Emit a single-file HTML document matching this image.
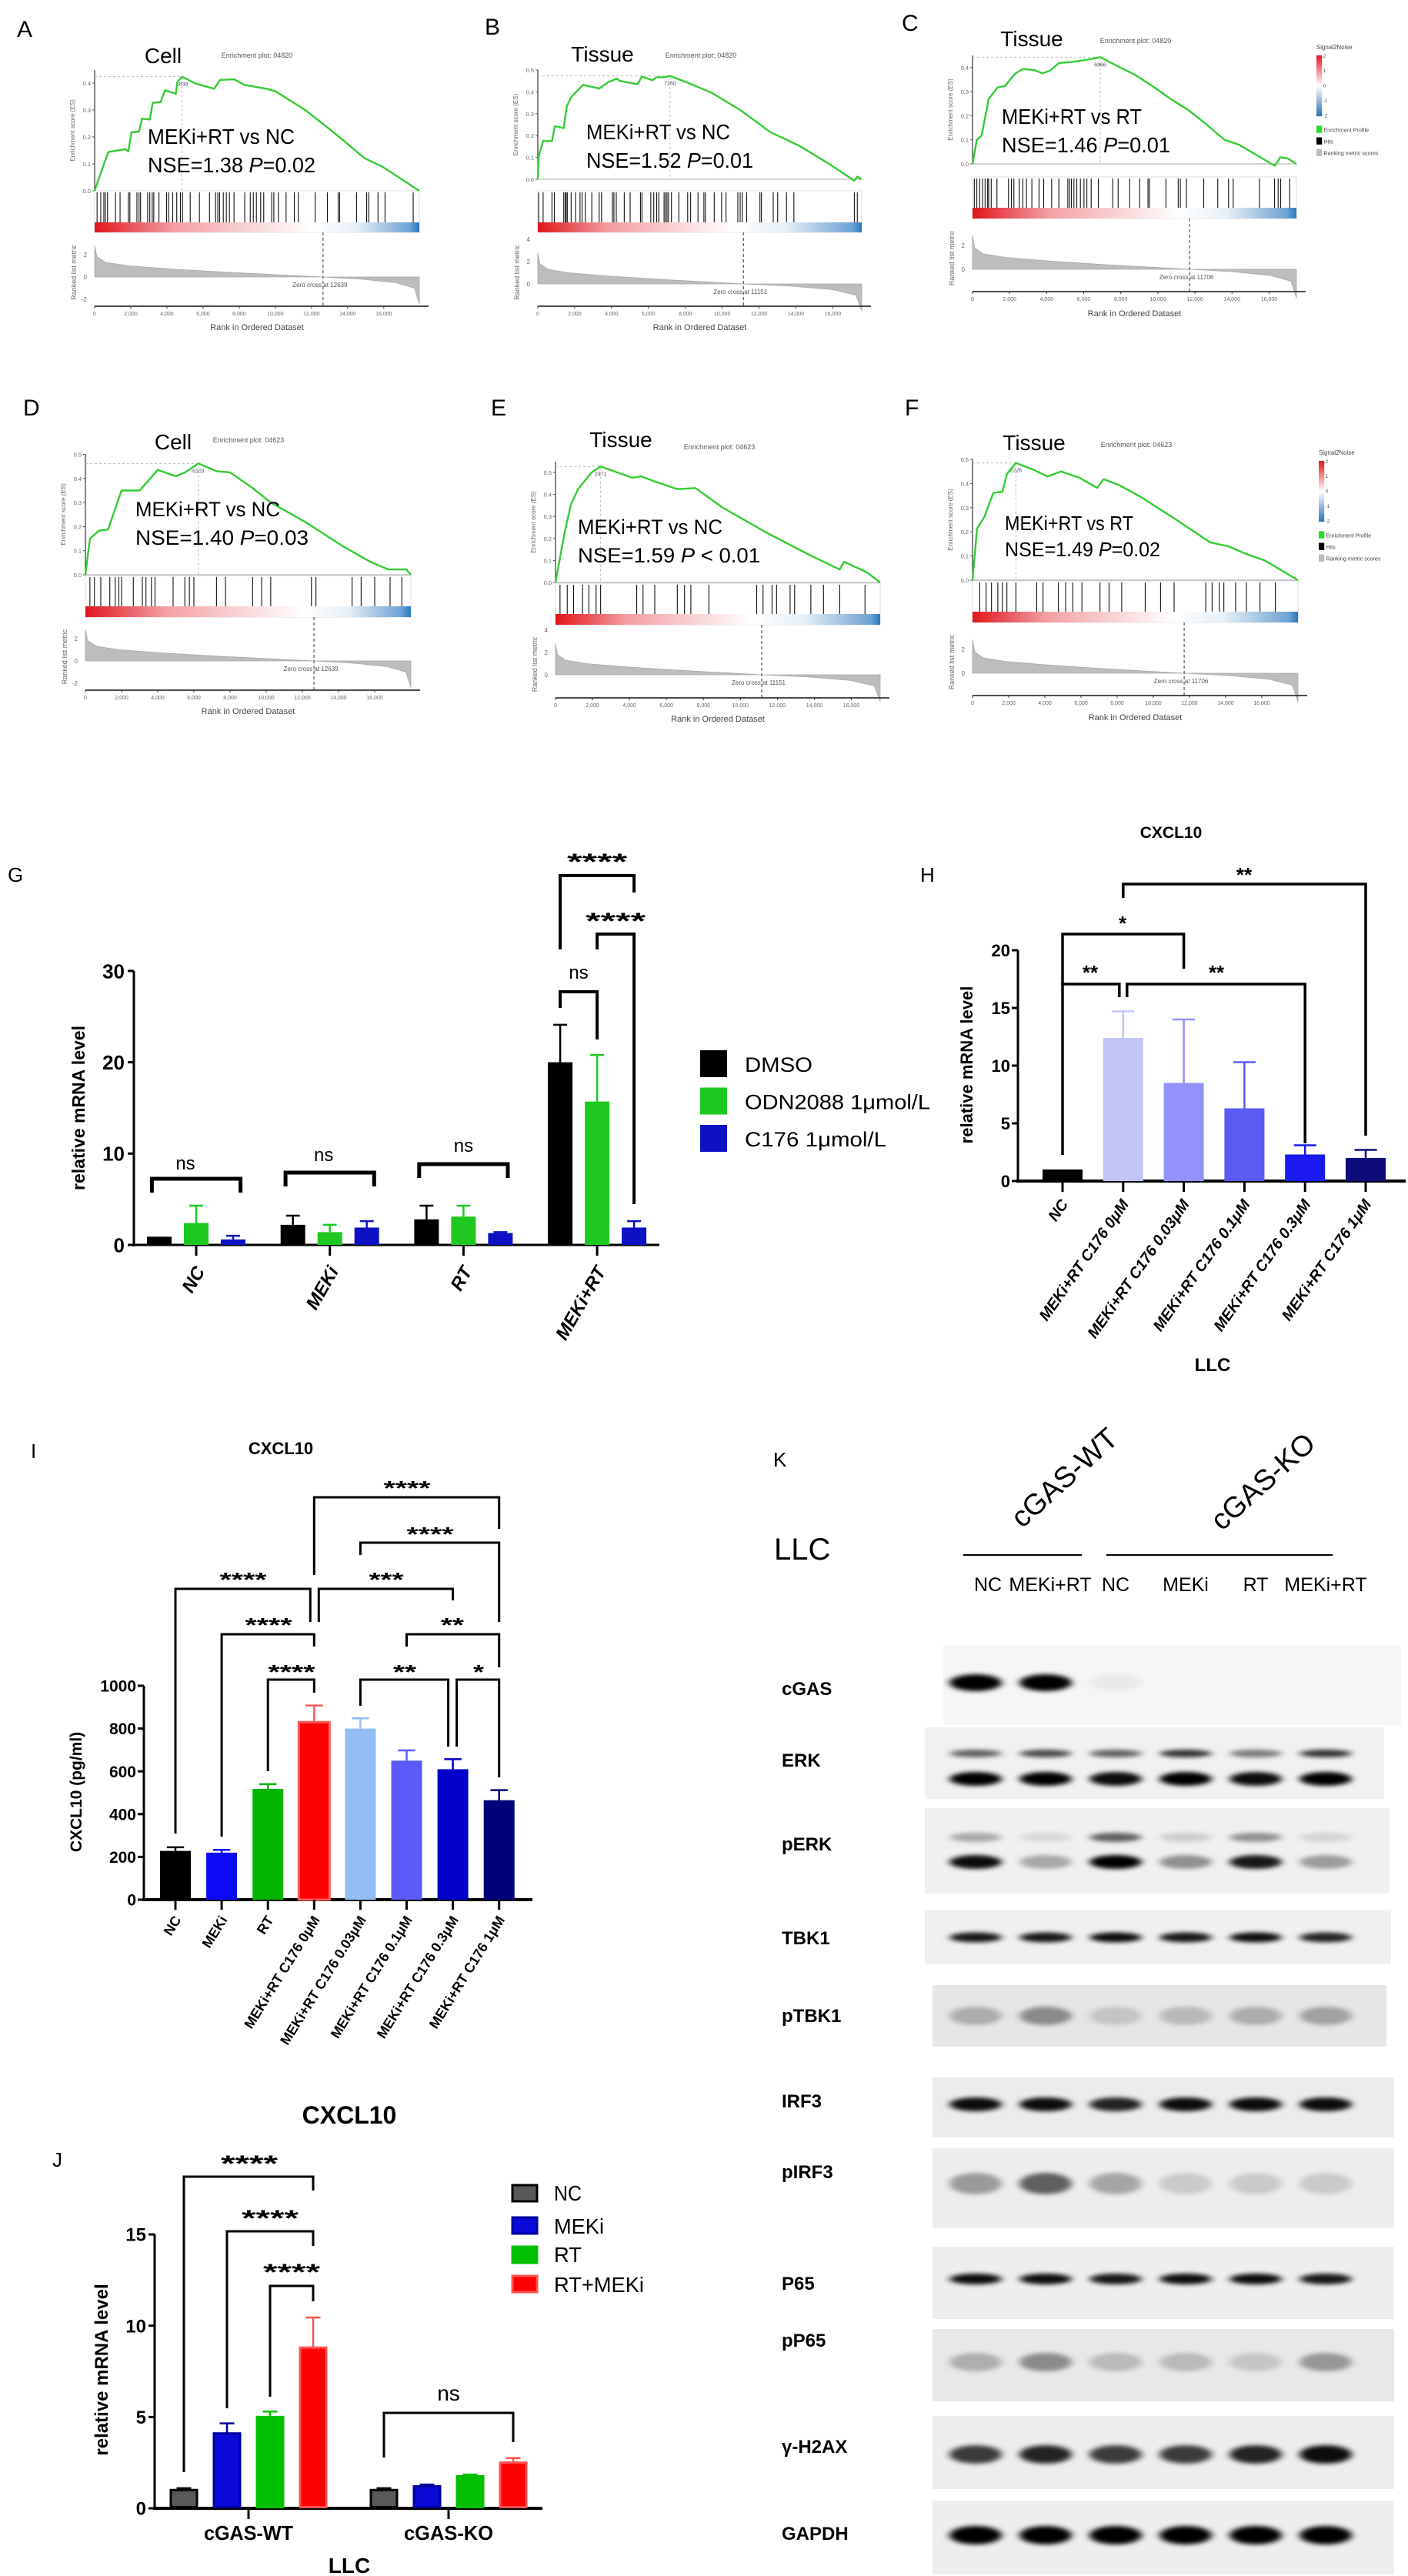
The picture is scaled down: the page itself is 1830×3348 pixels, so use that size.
<!DOCTYPE html>
<html><head><meta charset="utf-8">
<style>
html,body{margin:0;padding:0;background:#fff;}
svg{display:block;font-family:"Liberation Sans",Arial,sans-serif;}
</style></head>
<body>
<svg id="fig" xmlns="http://www.w3.org/2000/svg" width="1830" height="3348" viewBox="0 0 1830 3348">
<defs>
<filter id="blur" x="-50%" y="-200%" width="200%" height="500%"><feGaussianBlur stdDeviation="5 3"/></filter>
<linearGradient id="s2n" x1="0" y1="0" x2="0" y2="1"><stop offset="0" stop-color="#e3161e"/><stop offset="0.5" stop-color="#ffffff"/><stop offset="1" stop-color="#2a6fb8"/></linearGradient>
</defs>
<rect width="1830" height="3348" fill="#fff"/>
</svg>
<script>
// ---------- GSEA data (rank, running enrichment score) ----------
const esA_rank=[0,254,508,763,1695,1864,2034,2458,2627,3051,3220,3644,3898,4492,4576,4830,5593,6610,6949,7712,8305,9492,10000,11695,13390,14915,15932,17966];
const esA_val=[0,0.05,0.098,0.144,0.155,0.146,0.217,0.22,0.268,0.265,0.327,0.329,0.374,0.36,0.403,0.424,0.398,0.379,0.412,0.414,0.393,0.379,0.37,0.298,0.208,0.122,0.089,0];
const esB_rank=[0,48,288,768,928,1408,1568,1808,2048,2448,3328,3808,4288,4448,5408,5648,6208,6448,6848,7168,8128,9408,11008,12608,14208,15808,17168,17328,17568];
const esB_val=[0,0.105,0.175,0.175,0.243,0.234,0.333,0.376,0.397,0.432,0.415,0.444,0.461,0.45,0.435,0.47,0.453,0.467,0.467,0.473,0.442,0.397,0.315,0.216,0.152,0.07,-0.006,0.012,0];
const esC_rank=[0,233,485,874,1359,1748,2136,2330,2718,3301,3786,4175,4660,5437,6214,6893,7767,8738,9709,10680,11650,12621,13592,14369,15534,16311,16602,16990,17476];
const esC_val=[0,0.1,0.117,0.27,0.318,0.323,0.36,0.376,0.394,0.39,0.376,0.387,0.419,0.424,0.433,0.443,0.408,0.371,0.323,0.27,0.223,0.164,0.1,0.08,0.027,-0.008,0.027,0.023,0];
const esD_rank=[0,250,750,1250,2000,3000,4000,5000,5500,6250,7250,8000,9250,10250,12250,14250,15750,16750,17750,18000];
const esD_val=[0,0.15,0.183,0.188,0.35,0.35,0.435,0.409,0.425,0.462,0.43,0.425,0.36,0.30,0.215,0.118,0.054,0.022,0.022,0];
const esE_rank=[0,488,829,1220,1951,2439,4146,4634,5366,6585,7561,9024,11463,13902,15366,15610,16829,17560];
const esE_val=[0,0.224,0.353,0.424,0.5,0.527,0.476,0.482,0.459,0.424,0.429,0.341,0.224,0.118,0.059,0.094,0.047,0];
const esF_rank=[0,250,650,1150,1650,1900,2400,3400,4150,4900,5900,6900,7250,8150,9400,11150,13150,14150,15150,16150,18000];
const esF_val=[0,0.214,0.261,0.361,0.366,0.44,0.485,0.456,0.429,0.45,0.424,0.382,0.418,0.392,0.34,0.256,0.156,0.14,0.108,0.082,0];
const hitsA=[136,339,509,593,712,1153,1407,1865,1949,2339,2458,2542,2932,3051,3187,3271,3560,3983,4102,4322,4543,4746,4865,5288,5797,6356,6695,6814,6916,7119,7288,7458,7712,8305,8611,8780,8950,9187,9356,9797,9916,10170,10594,11051,11272,12204,12882,13475,13560,14492,15052,15170,15679,16069,17628];
const hitsB=[48,288,768,896,1408,1488,1536,1600,1808,2048,2288,2400,2576,2928,3328,3456,4048,4128,4256,4688,5008,5568,5648,6128,6288,6448,6560,6848,6928,7008,7088,7248,7648,8128,8288,8688,9008,9088,9568,9968,10208,10848,10976,11088,11328,12048,12128,12768,13008,13488,13888,17168,17328];
const hitsC=[97,233,388,543,679,815,873,1009,1319,1940,2095,2231,2522,2716,2910,3201,3589,3841,4268,4656,5141,5238,5335,5471,5626,5820,6014,6169,6402,6790,7566,7857,8478,9021,9467,9545,10437,11097,11213,11543,12474,13231,13813,14065,15481,16296,16490,16626,17111];
const hitsD=[250,500,850,1350,1650,1850,2000,2650,3150,3350,3650,3850,4850,5500,5750,6000,7250,7750,9250,9750,10250,12500,12750,14750,15250,16000,16850,17500];
const hitsE=[244,634,976,1464,1806,2196,2440,4392,4733,5368,6588,6978,7320,8296,10882,11224,11712,11956,12688,12932,13810,14494,15372,16738];
const hitsF=[400,750,1050,1400,1650,1900,2400,3550,3900,4750,5150,5550,6050,7050,7550,8250,9550,10400,11150,12900,13250,13650,13900,14550,15150,15900,16750];
const metricPosFrac=[0,0.01,0.05,0.15,0.35,0.6,0.85,1];
const metricPosVal=[2.8,1.8,1.3,1.0,0.7,0.4,0.15,0];
const metricNegFrac=[0,0.4,0.75,0.95,1];
const metricNegVal=[0,-0.2,-0.5,-1.0,-2.4];
const rankTicks=[0,2000,4000,6000,8000,10000,12000,14000,16000];
const rankTickLabels=['0','2,000','4,000','6,000','8,000','10,000','12,000','14,000','16,000'];

// ---------- G ----------
const gCats=['NC','MEKi','RT','MEKi+RT'];
const gDMSO=[0.9,2.2,2.8,20.0], gDMSOerr=[0,1.0,1.5,4.1];
const gODN=[2.4,1.4,3.1,15.7], gODNerr=[1.9,0.8,1.2,5.1];
const gC176=[0.6,1.9,1.3,1.9], gC176err=[0.4,0.7,0.1,0.7];
const gTicks=[0,10,20,30];
// ---------- H ----------
const hCats=['NC','MEKi+RT  C176 0μM','MEKi+RT  C176 0.03μM','MEKi+RT  C176 0.1μM','MEKi+RT  C176 0.3μM','MEKi+RT  C176 1μM'];
const hVals=[1.0,12.4,8.5,6.3,2.3,2.0];
const hErr=[0,2.3,5.5,4.0,0.8,0.7];
const hTicks=[0,5,10,15,20];
// ---------- I ----------
const iCats=['NC','MEKi','RT','MEKi+RT C176 0μM','MEKi+RT C176 0.03μM','MEKi+RT C176 0.1μM','MEKi+RT C176 0.3μM','MEKi+RT C176 1μM'];
const iVals=[228,220,518,830,800,650,610,465];
const iErr=[17,13,22,78,48,48,47,47];
const iTicks=[0,200,400,600,800,1000];
// ---------- J ----------
const jCats=['cGAS-WT','cGAS-KO'];
const jNC=[1.0,1.0], jNCe=[0.1,0.1];
const jMEKi=[4.1,1.2], jMEKie=[0.55,0.1];
const jRT=[5.0,1.75], jRTe=[0.3,0.1];
const jRTM=[8.8,2.5], jRTMe=[1.65,0.25];
const jTicks=[0,5,10,15];
// ---------- K blots ----------
const kLaneLabels=['NC','MEKi+RT','NC','MEKi','RT','MEKi+RT'];
const bCGAS=[1,1,0.05,0,0,0];
const bERKup=[0.6,0.7,0.6,0.8,0.5,0.8], bERKlo=[1,1,0.95,1,0.95,1];
const bPERKup=[0.3,0.1,0.6,0.15,0.4,0.12], bPERKlo=[0.95,0.3,1,0.4,0.9,0.35];
const bTBK1=[0.9,0.9,0.95,0.9,0.95,0.85];
const bPTBK1=[0.25,0.4,0.15,0.2,0.25,0.3];
const bIRF3=[0.95,0.95,0.85,0.95,0.95,0.95];
const bPIRF3=[0.35,0.6,0.3,0.15,0.15,0.15];
const bP65=[0.95,0.95,0.9,0.95,0.95,0.9];
const bPP65=[0.25,0.4,0.2,0.2,0.15,0.35];
const bH2AX=[0.75,0.85,0.75,0.75,0.85,0.95];
const bGAPDH=[1,1,1,1,1,1];

const NS='http://www.w3.org/2000/svg';
const svg=document.getElementById('fig');
function mk(tag,attrs,parent){const e=document.createElementNS(NS,tag);for(const k in attrs)e.setAttribute(k,attrs[k]);(parent||svg).appendChild(e);return e;}
function nm(e,n){
  
  
  return e;}
function txt(x,y,s,attrs,parent){const t=mk('text',Object.assign({x:x,y:y},attrs||{}),parent);t.textContent=s;return t;}

// ================= GSEA =================
const gseaCfg=[
 {id:'a',letter:'A',lx:22,ly:48,title:'Cell',tx:212,ty:82,epx:334,epy:75,ep:'Enrichment plot: 04820',L:123,R:545,max:17966,es0:248,esK:350,esTop:91,esTicks:[0,0.1,0.2,0.3,0.4],hT:248,hB:288,bT:289,bB:302,rk0:360,rkK:14.5,rkTicks:[2,0,-2],axisY:398,rtY:429,zero:12639,ax:192,ay1:187,ay2:224,aw1:191,aw2:218,l1:'MEKi+RT vs NC',nse:'NSE=1.38  ',pv:'=0.02',peak:'4839',fs:28,rank:esA_rank,val:esA_val,hits:hitsA},
 {id:'b',letter:'B',lx:630,ly:45,title:'Tissue',tx:783,ty:80,epx:911,epy:75,ep:'Enrichment plot: 04820',L:699,R:1120,max:17568,es0:233,esK:284,esTop:91,esTicks:[0,0.1,0.2,0.3,0.4,0.5],hT:248,hB:288,bT:289,bB:302,rk0:369,rkK:14.5,rkTicks:[4,2,0],axisY:398,rtY:429,zero:11151,ax:762,ay1:181,ay2:218,aw1:187,aw2:217,l1:'MEKi+RT vs NC',nse:'NSE=1.52  ',pv:'=0.01',peak:'7160',fs:28,rank:esB_rank,val:esB_val,hits:hitsB},
 {id:'c',letter:'C',lx:1172,ly:40,title:'Tissue',tx:1341,ty:60,epx:1476,epy:56,ep:'Enrichment plot: 04820',L:1264,R:1685,max:17476,es0:213,esK:313,esTop:72,esTicks:[0,0.1,0.2,0.3,0.4],hT:230,hB:270,bT:270,bB:284,rk0:350,rkK:15.5,rkTicks:[2,0],axisY:379,rtY:411,zero:11706,ax:1302,ay1:161,ay2:198,aw1:182,aw2:219,l1:'MEKi+RT vs RT',nse:'NSE=1.46  ',pv:'=0.01',peak:'6966',fs:28,rank:esC_rank,val:esC_val,hits:hitsC},
 {id:'d',letter:'D',lx:30,ly:540,title:'Cell',tx:225,ty:584,epx:323,epy:575,ep:'Enrichment plot: 04623',L:111,R:534,max:18000,es0:747,esK:313,esTop:590,esTicks:[0,0.1,0.2,0.3,0.4,0.5],hT:748,hB:788,bT:788,bB:802,rk0:859,rkK:14.5,rkTicks:[2,0,-2],axisY:897,rtY:928,zero:12639,ax:176,ay1:671,ay2:708,aw1:188,aw2:225,l1:'MEKi+RT vs NC',nse:'NSE=1.40  ',pv:'=0.03',peak:'6103',fs:27,rank:esD_rank,val:esD_val,hits:hitsD},
 {id:'e',letter:'E',lx:638,ly:540,title:'Tissue',tx:807,ty:581,epx:935,epy:584,ep:'Enrichment plot: 04623',L:722,R:1144,max:17560,es0:757,esK:286,esTop:600,esTicks:[0,0.1,0.2,0.3,0.4,0.5],hT:758,hB:798,bT:798,bB:812,rk0:877,rkK:14.5,rkTicks:[4,2,0],axisY:907,rtY:938,zero:11151,ax:751,ay1:694,ay2:731,aw1:188,aw2:237,l1:'MEKi+RT vs NC',nse:'NSE=1.59  ',pv:' < 0.01',peak:'2471',fs:27,rank:esE_rank,val:esE_val,hits:hitsE},
 {id:'f',letter:'F',lx:1176,ly:540,title:'Tissue',tx:1344,ty:585,epx:1477,epy:581,ep:'Enrichment plot: 04623',L:1264,R:1687,max:18000,es0:754,esK:314,esTop:597,esTicks:[0,0.1,0.2,0.3,0.4,0.5],hT:755,hB:795,bT:795,bB:809,rk0:875,rkK:15.5,rkTicks:[2,0],axisY:904,rtY:936,zero:11706,ax:1306,ay1:689,ay2:723,aw1:167,aw2:202,l1:'MEKi+RT vs RT',nse:'NSE=1.49  ',pv:'=0.02',peak:'2226',fs:26,rank:esF_rank,val:esF_val,hits:hitsF}
];
function gsea(c){
  const g=mk('g',{});
  nm(g,'gsea-panel-'+c.id);
  const X=r=>c.L+(r/c.max)*(c.R-c.L);
  const Y=v=>c.es0-v*c.esK;
  const RY=v=>c.rk0-v*c.rkK;
  nm(txt(c.lx,c.ly,c.letter,{'font-size':30,fill:'#000'},g),'panel-letter');
  nm(txt(c.tx,c.ty,c.title,{'font-size':28,'text-anchor':'middle',fill:'#000'},g),'panel-title');
  nm(txt(c.epx,c.epy,c.ep,{'font-size':9,'text-anchor':'middle',fill:'#555'},g),'enrichment-plot-title');
  const gr=mk('linearGradient',{id:'cb'+c.id,x1:0,y1:0,x2:1,y2:0},svg.querySelector('defs'));
  const zf=c.zero/c.max;
  mk('stop',{offset:0,'stop-color':'#e0161c'},gr);
  mk('stop',{offset:zf*0.35,'stop-color':'#f3a0a3'},gr);
  mk('stop',{offset:zf*0.95,'stop-color':'#ffffff'},gr);
  mk('stop',{offset:Math.min(1,zf+(1-zf)*0.35),'stop-color':'#e6f0f8'},gr);
  mk('stop',{offset:0.97,'stop-color':'#6ea3d3'},gr);
  mk('stop',{offset:1,'stop-color':'#2a78c2'},gr);
  nm(mk('line',{x1:c.L,y1:c.esTop,x2:c.L,y2:c.es0,stroke:'#333','stroke-width':1.2},g),'es-y-axis');
  c.esTicks.forEach(v=>{
    mk('line',{x1:c.L-3,y1:Y(v),x2:c.L,y2:Y(v),stroke:'#555','stroke-width':1},g);
    nm(txt(c.L-5,Y(v)+3,v.toFixed(1),{'font-size':7.5,'text-anchor':'end',fill:'#666'},g),'es-tick-label');
  });
  const yl=txt(0,0,'Enrichment score (ES)',{'font-size':8,'text-anchor':'middle',fill:'#666',transform:`translate(${c.L-26},${(c.esTop+c.es0)/2}) rotate(-90)`},g);
  nm(yl,'es-axis-title');
  nm(mk('line',{x1:c.L,y1:c.es0,x2:c.R,y2:c.es0,stroke:'#aaa','stroke-width':1},g),'es-zero-line');
  let pi=0;c.val.forEach((v,i)=>{if(v>c.val[pi])pi=i;});
  mk('path',{d:`M${c.L} ${Y(c.val[pi])} H${X(c.rank[pi])} V${c.es0}`,stroke:'#bbb','stroke-dasharray':'3 3',fill:'none','stroke-width':1},g);
  nm(txt(X(c.rank[pi]),Y(c.val[pi])+12,c.peak,{'font-size':7,'text-anchor':'middle',fill:'#555'},g),'peak-rank-label');
  nm(mk('rect',{x:c.L,y:c.hT,width:c.R-c.L,height:c.bB-c.hT,fill:'#fff',stroke:'#ddd','stroke-width':1},g),'hits-box');
  c.hits.forEach(r=>{
    const h=mk('line',{x1:X(r),y1:c.hT+2,x2:X(r),y2:c.bT,stroke:'#111','stroke-width':1.1},g);
    nm(h,'hit-line');
  });
  nm(mk('rect',{x:c.L,y:c.bT,width:c.R-c.L,height:c.bB-c.bT,fill:`url(#cb${c.id})`},g),'ranking-color-bar');
  const pts=c.rank.map((r,i)=>X(r).toFixed(1)+','+Y(c.val[i]).toFixed(1)).join(' ');
  nm(mk('polyline',{points:pts,fill:'none',stroke:'#33cc33','stroke-width':2.4,'stroke-linejoin':'round'},g),'enrichment-curve');
  let d=`M${X(0)} ${RY(0)}`;
  metricPosFrac.forEach((f,i)=>{d+=` L${X(f*c.zero).toFixed(1)} ${RY(metricPosVal[i]).toFixed(1)}`;});
  metricNegFrac.forEach((f,i)=>{d+=` L${X(c.zero+f*(c.max-c.zero)).toFixed(1)} ${RY(metricNegVal[i]).toFixed(1)}`;});
  d+=` L${X(c.max)} ${RY(0)} Z`;
  nm(mk('path',{d:d,fill:'#bdbdbd',stroke:'#a8a8a8','stroke-width':0.8},g),'ranked-metric-area');
  c.rkTicks.forEach(v=>{
    nm(txt(c.L-10,RY(v)+3,String(v),{'font-size':8,'text-anchor':'end',fill:'#666'},g),'metric-tick-label');
  });
  nm(txt(0,0,'Ranked list metric',{'font-size':9,'text-anchor':'middle',fill:'#666',transform:`translate(${c.L-24},${(c.bB+c.axisY)/2+4}) rotate(-90)`},g),'metric-axis-title');
  nm(mk('line',{x1:X(c.zero),y1:c.bB,x2:X(c.zero),y2:c.axisY,stroke:'#333','stroke-width':1,'stroke-dasharray':'4 3'},g),'zero-cross-line');
  nm(txt(X(c.zero)-4,c.rk0+13,'Zero cross at '+c.zero,{'font-size':8,'text-anchor':'middle',fill:'#555'},g),'zero-cross-label');
  nm(mk('line',{x1:c.L,y1:c.axisY,x2:c.R+12,y2:c.axisY,stroke:'#333','stroke-width':1.8},g),'rank-x-axis');
  rankTicks.forEach((r,i)=>{
    mk('line',{x1:X(r),y1:c.axisY,x2:X(r),y2:c.axisY+3,stroke:'#333','stroke-width':1},g);
    nm(txt(X(r),c.axisY+12,rankTickLabels[i],{'font-size':7,'text-anchor':'middle',fill:'#666'},g),'rank-tick-label');
  });
  nm(txt((c.L+c.R)/2,c.rtY,'Rank in Ordered Dataset',{'font-size':11,'text-anchor':'middle',fill:'#444'},g),'rank-axis-title');
  nm(txt(c.ax,c.ay1,c.l1,{'font-size':c.fs,fill:'#000',textLength:c.aw1,lengthAdjust:'spacingAndGlyphs'},g),'comparison-label');
  const t2=txt(c.ax,c.ay2,'',{'font-size':c.fs,fill:'#000',textLength:c.aw2,lengthAdjust:'spacingAndGlyphs'},g);
  nm(t2,'nse-p-value-label');
  const s1=mk('tspan',{},t2);s1.textContent=c.nse;
  const s2=mk('tspan',{'font-style':'italic'},t2);s2.textContent='P';
  const s3=mk('tspan',{},t2);s3.textContent=c.pv;
}
gseaCfg.forEach(gsea);

function gseaLegend(x,y,s,id){
  const g=mk('g',{});
  nm(g,'gsea-legend-'+id);
  nm(txt(x,y,'Signal2Noise',{'font-size':11*s,fill:'#444'},g),'legend-title');
  nm(mk('rect',{x:x,y:y+11*s,width:10*s,height:110*s,fill:'url(#s2n)'},g),'legend-colorbar');
  ['2','1','0','-1','-2'].forEach((t,i)=>{nm(txt(x+12*s,y+(15+i*27)*s,t,{'font-size':9*s,fill:'#555'},g),'colorbar-tick');});
  const items=[['#22dd22','Enrichment Profile'],['#000','Hits'],['#bbb','Ranking metric scores']];
  items.forEach((it,i)=>{
    const yy=y+(138+i*21)*s;
    nm(mk('rect',{x:x,y:yy,width:10*s,height:13*s,fill:it[0]},g),'legend-swatch');
    nm(txt(x+13*s,yy+11*s,it[1],{'font-size':10*s,fill:'#444'},g),'legend-label');
  });
}
gseaLegend(1711,64,0.72,'c');
gseaLegend(1714,591,0.72,'f');

// ================= bar helpers =================
function yAxis(g,x,yfn,ticks,top,bottom,fs,sw,labX){
  nm(mk('line',{x1:x,y1:top,x2:x,y2:bottom,stroke:'#000','stroke-width':sw},g),'y-axis-line');
  ticks.forEach(t=>{
    mk('line',{x1:x-8,y1:yfn(t),x2:x,y2:yfn(t),stroke:'#000','stroke-width':sw},g);
    nm(txt(labX,yfn(t)+fs*0.36,String(t),{'font-size':fs,'text-anchor':'end',fill:'#000','font-weight':'bold'},g),'y-tick-label');
  });
}
function bar(g,cx,w,v,err,yfn,y0,fill,stroke,name){
  const r=mk('rect',{x:cx-w/2,y:yfn(v),width:w,height:y0-yfn(v),fill:fill,stroke:stroke,'stroke-width':stroke==='none'?0:3},g);
  nm(r,name);
  if(err>0){
    const e=mk('path',{d:`M${cx} ${yfn(v)} V${yfn(v+err)} M${cx-w*0.28} ${yfn(v+err)} H${cx+w*0.28}`,stroke:stroke==='none'?fill:stroke,'stroke-width':2.5,fill:'none'},g);
    nm(e,name+'-error-bar');
  }
}
function bracket(g,x1,x2,y,y1,y2,label,lx,ly,fs,sw,tl){
  nm(mk('path',{d:`M${x1} ${y1} V${y} H${x2} V${y2}`,stroke:'#000','stroke-width':sw,fill:'none'},g),'significance-bracket');
  const a={'font-size':fs,'text-anchor':'middle',fill:'#000','font-weight':label==='ns'?'normal':'bold'};
  if(tl){a.textLength=tl;a.lengthAdjust='spacingAndGlyphs';}
  nm(txt(lx,ly,label,a,g),'significance-label');
}

// ================= G =================
(function(){
  const g=mk('g',{});
  nm(g,'panel-g-chart');
  const y0=1618,gy=v=>y0-v*11.87,gx=(i,s)=>255+i*173.7+(s-1)*48;
  nm(txt(10,1146,'G',{'font-size':26,fill:'#000'},g),'panel-letter');
  yAxis(g,174,gy,gTicks,gy(30),y0+2,26,3,162);
  nm(mk('line',{x1:172,y1:y0,x2:857,y2:y0,stroke:'#000','stroke-width':3},g),'x-axis-line');
  const ser=[[gDMSO,gDMSOerr,'#000000'],[gODN,gODNerr,'#1ec81e'],[gC176,gC176err,'#0c12c4']];
  gCats.forEach((c,i)=>{
    ser.forEach((s,k)=>bar(g,gx(i,k),32,s[0][i],s[1][i],gy,y0,s[2],'none','bar-'+c+'-'+k));
    mk('line',{x1:gx(i,1),y1:y0,x2:gx(i,1),y2:y0+14,stroke:'#000','stroke-width':3},g);
    nm(txt(0,0,c,{'font-size':24,'font-weight':'bold','font-style':'italic','text-anchor':'end',transform:`translate(${gx(i,1)+12},${y0+34}) rotate(-60)`},g),'x-tick-label');
  });
  nm(txt(0,0,'relative mRNA level',{'font-size':23,'font-weight':'bold','text-anchor':'middle',transform:`translate(110,1440) rotate(-90)`},g),'y-axis-title');
  bracket(g,gx(0,-0.2),gx(0,2.2),1532,1550,1550,'ns',gx(0,1)-14,1520,24,5);
  bracket(g,gx(1,-0.2),gx(1,2.2),1524,1542,1542,'ns',gx(1,1)-8,1509,24,5);
  bracket(g,gx(2,-0.2),gx(2,2.2),1513,1531,1531,'ns',gx(2,1),1497,24,5);
  bracket(g,gx(3,0),gx(3,1),1289,1310,1351,'ns',gx(3,0.5),1272,24,4);
  bracket(g,gx(3,0),gx(3,2),1138,1234,1160,'****',gx(3,1),1130,30,4,78);
  bracket(g,gx(3,1),gx(3,2),1214,1234,1565,'****',gx(3,1.5),1207,30,4,78);
  const leg=[['#000000','DMSO'],['#1ec81e','ODN2088 1μmol/L'],['#0c12c4','C176 1μmol/L']];
  leg.forEach((l,i)=>{
    nm(mk('rect',{x:910,y:1365+i*48.5,width:35,height:35,fill:l[0]},g),'legend-swatch');
    nm(txt(968,1393+i*48.5,l[1],{'font-size':27,fill:'#000',textLength:[88,241,184][i],lengthAdjust:'spacingAndGlyphs'},g),'legend-label');
  });
})();

// ================= H =================
(function(){
  const g=mk('g',{});
  nm(g,'panel-h-chart');
  const y0=1535,hy=v=>y0-v*15,hx=i=>1381+i*78.8;
  const cols=['#000000','#c3c5f8','#9292fa','#5a5af5','#1a1af0','#0b0b7c'];
  nm(txt(1196,1146,'H',{'font-size':26,fill:'#000'},g),'panel-letter');
  nm(txt(1522,1089,'CXCL10',{'font-size':21,'font-weight':'bold','text-anchor':'middle'},g),'chart-title');
  yAxis(g,1323,hy,hTicks,hy(20),y0+2,22,3,1313);
  nm(mk('line',{x1:1321,y1:y0,x2:1827,y2:y0,stroke:'#000','stroke-width':4},g),'x-axis-line');
  hCats.forEach((c,i)=>{
    bar(g,hx(i),52,hVals[i],hErr[i],hy,y0,cols[i],'none','bar-'+i);
    mk('line',{x1:hx(i),y1:y0,x2:hx(i),y2:y0+14,stroke:'#000','stroke-width':3},g);
    nm(txt(0,0,c,{'font-size':20,'font-weight':'bold','font-style':'italic','text-anchor':'end',transform:`translate(${hx(i)+8},${y0+30}) rotate(-55)`},g),'x-tick-label');
  });
  nm(txt(0,0,'relative mRNA level',{'font-size':22,'font-weight':'bold','text-anchor':'middle',transform:`translate(1264,1384) rotate(-90)`},g),'y-axis-title');
  nm(txt(1576,1782,'LLC',{'font-size':24,'font-weight':'bold','text-anchor':'middle'},g),'x-axis-title');
  bracket(g,hx(0),hx(1)-5,1279,1501,1296,'**',1417,1273,26,3.5);
  bracket(g,hx(0),hx(2),1214,1280,1259,'*',1459,1209,26,3.5);
  bracket(g,hx(1)+5,hx(4),1279,1296,1486,'**',1581,1273,26,3.5);
  bracket(g,hx(1),hx(5),1149,1167,1476,'**',1617,1146,26,3.5);
})();

// ================= I =================
(function(){
  const g=mk('g',{});
  nm(g,'panel-i-chart');
  const y0=2469,iy=v=>y0-v*0.278,ix=i=>228+i*60.1;
  const cols=['#000000','#0a0af5','#00b400','#ff0000','#92bdf5','#5a5af8','#0000c8','#00007a'];
  nm(txt(40,1895,'I',{'font-size':26,fill:'#000'},g),'panel-letter');
  nm(txt(365,1890,'CXCL10',{'font-size':22,'font-weight':'bold','text-anchor':'middle'},g),'chart-title');
  yAxis(g,187,iy,iTicks,iy(1000),y0+2,21,3,177);
  nm(mk('line',{x1:185,y1:y0,x2:692,y2:y0,stroke:'#000','stroke-width':4},g),'x-axis-line');
  iCats.forEach((c,i)=>{
    bar(g,ix(i),40,iVals[i],iErr[i],iy,y0,cols[i],i===3?'#ff5a5a':'none','bar-'+i);
    mk('line',{x1:ix(i),y1:y0,x2:ix(i),y2:y0+13,stroke:'#000','stroke-width':3},g);
    nm(txt(0,0,c,{'font-size':18,'font-weight':'bold','text-anchor':'end',transform:`translate(${ix(i)+8},${y0+26}) rotate(-58)`},g),'x-tick-label');
  });
  nm(txt(0,0,'CXCL10 (pg/ml)',{'font-size':21,'font-weight':'bold','text-anchor':'middle',transform:`translate(106,2329) rotate(-90)`},g),'y-axis-title');
  bracket(g,ix(0),ix(3)-5,2065,2383,2108,'****',316,2062,26,3,61);
  bracket(g,ix(1),ix(3),2124,2387,2140,'****',349,2121,26,3,61);
  bracket(g,ix(2),ix(3),2183,2302,2200,'****',379,2182,26,3,61);
  bracket(g,ix(3)+6,ix(6),2065,2108,2080,'***',502,2062,26,3,45);
  bracket(g,ix(3),ix(7),1946,2047,1987,'****',529,1943,26,3,61);
  bracket(g,ix(4),ix(7),2005,2021,2108,'****',559,2003,26,3,61);
  bracket(g,ix(5),ix(7),2124,2140,2167,'**',588,2121,26,3,30);
  bracket(g,ix(4),ix(6)-6,2183,2217,2270,'**',526,2182,26,3,30);
  bracket(g,ix(6)+5,ix(7),2183,2270,2310,'*',622,2182,26,3,14);
})();

// ================= J =================
(function(){
  const g=mk('g',{});
  nm(g,'panel-j-chart');
  const y0=3260,jy=v=>y0-v*23.73,jx=(gi,s)=>323+gi*260+(s-1.5)*56;
  const ser=[[jNC,jNCe,'#595959','#000000','NC'],[jMEKi,jMEKie,'#0a0ad8','#0000a0','MEKi'],[jRT,jRTe,'#00c000','#00c000','RT'],[jRTM,jRTMe,'#ff0000','#ff5050','RT+MEKi']];
  nm(txt(68,2816,'J',{'font-size':26,fill:'#000'},g),'panel-letter');
  nm(txt(454,2760,'CXCL10',{'font-size':32,'font-weight':'bold','text-anchor':'middle'},g),'chart-title');
  yAxis(g,201,jy,jTicks,jy(15),y0+2,24,3,190);
  nm(mk('line',{x1:199,y1:y0,x2:705,y2:y0,stroke:'#000','stroke-width':4},g),'x-axis-line');
  jCats.forEach((c,gi)=>{
    ser.forEach((s,k)=>bar(g,jx(gi,k),34,s[0][gi],s[1][gi],jy,y0-1.5,s[2],s[3],'bar-'+c+'-'+s[4]));
    mk('line',{x1:jx(gi,1.5),y1:y0,x2:jx(gi,1.5),y2:y0+14,stroke:'#000','stroke-width':3},g);
    nm(txt(jx(gi,1.5),3301,c,{'font-size':26,'font-weight':'bold','text-anchor':'middle',textLength:116,lengthAdjust:'spacingAndGlyphs'},g),'x-tick-label');
  });
  nm(txt(454,3344,'LLC',{'font-size':28,'font-weight':'bold','text-anchor':'middle'},g),'x-axis-title');
  nm(txt(0,0,'relative mRNA level',{'font-size':24,'font-weight':'bold','text-anchor':'middle',transform:`translate(140,3080) rotate(-90)`},g),'y-axis-title');
  bracket(g,jx(0,0),jx(0,3),2829,3213,2847,'****',324,2822,30,3,74);
  bracket(g,jx(0,1),jx(0,3),2900,3130,2919,'****',351,2893,30,3,74);
  bracket(g,jx(0,2),jx(0,3),2971,3115,2991,'****',379,2963,30,3,74);
  bracket(g,jx(1,0),jx(1,3),3136,3194,3174,'ns',583,3120,28,3);
  ser.forEach((s,i)=>{
    nm(mk('rect',{x:666,y:[2840,2882,2920,2958][i],width:32,height:21,fill:s[2],stroke:s[3],'stroke-width':3},g),'legend-swatch');
    nm(txt(720,[2860,2903,2940,2979][i],s[4],{'font-size':28,fill:'#000',textLength:[36,65,36,117][i],lengthAdjust:'spacingAndGlyphs'},g),'legend-label');
  });
})();

// ================= K =================
(function(){
  const g=mk('g',{});
  nm(g,'panel-k-western-blot');
  const kx=i=>1268+i*91;
  nm(txt(1005,1906,'K',{'font-size':26,fill:'#000'},g),'panel-letter');
  nm(txt(1006,2027,'LLC',{'font-size':40,fill:'#000'},g),'cell-line-label');
  nm(txt(0,0,'cGAS-WT',{'font-size':38,'text-anchor':'middle',transform:'translate(1392,1930) rotate(-42)'},g),'group-label-wt');
  nm(txt(0,0,'cGAS-KO',{'font-size':38,'text-anchor':'middle',transform:'translate(1650,1935) rotate(-42)'},g),'group-label-ko');
  nm(mk('line',{x1:1252,y1:2021,x2:1406,y2:2021,stroke:'#000','stroke-width':2},g),'group-line-wt');
  nm(mk('line',{x1:1438,y1:2021,x2:1732,y2:2021,stroke:'#000','stroke-width':2},g),'group-line-ko');
  kLaneLabels.forEach((l,i)=>{nm(txt(kx(i)+(i===0?16:i===1?6:0),2068,l,{'font-size':25,'text-anchor':'middle',fill:'#000'},g),'lane-label');});
  const rows=[
    {n:'cGAS',ly:2203,sx:1226,sy:2138,sw:595,sh:104,bg:'#f6f6f6',bands:[[bCGAS,2187,22]]},
    {n:'ERK',ly:2296,sx:1202,sy:2245,sw:597,sh:93,bg:'#f1f1f1',bands:[[bERKup,2279,10],[bERKlo,2312,18]]},
    {n:'pERK',ly:2405,sx:1202,sy:2350,sw:604,sh:111,bg:'#f0f0f0',bands:[[bPERKup,2388,12],[bPERKlo,2420,18]]},
    {n:'TBK1',ly:2527,sx:1202,sy:2482,sw:606,sh:71,bg:'#f0f0f0',bands:[[bTBK1,2518,13]]},
    {n:'pTBK1',ly:2628,sx:1212,sy:2580,sw:590,sh:80,bg:'#e6e6e6',bands:[[bPTBK1,2620,24]]},
    {n:'IRF3',ly:2739,sx:1212,sy:2700,sw:600,sh:78,bg:'#ececec',bands:[[bIRF3,2735,18]]},
    {n:'pIRF3',ly:2831,sx:1212,sy:2792,sw:600,sh:104,bg:'#ededed',bands:[[bPIRF3,2838,28]]},
    {n:'P65',ly:2976,sx:1212,sy:2920,sw:600,sh:94,bg:'#eeeeee',bands:[[bP65,2962,14]]},
    {n:'pP65',ly:3050,sx:1212,sy:3027,sw:600,sh:94,bg:'#e8e8e8',bands:[[bPP65,3070,24]]},
    {n:'γ-H2AX',ly:3188,sx:1212,sy:3140,sw:600,sh:95,bg:'#ededed',bands:[[bH2AX,3190,24]]},
    {n:'GAPDH',ly:3301,sx:1212,sy:3250,sw:600,sh:96,bg:'#eeeeee',bands:[[bGAPDH,3295,24]]}
  ];
  rows.forEach(r=>{
    nm(txt(1016,r.ly,r.n,{'font-size':24,'font-weight':'bold',fill:'#000'},g),'blot-label-'+r.n);
    nm(mk('rect',{x:r.sx,y:r.sy,width:r.sw,height:r.sh,fill:r.bg},g),'blot-strip-'+r.n);
    r.bands.forEach(b=>{
      b[0].forEach((v,i)=>{
        if(v<=0)return;
        const e=mk('ellipse',{cx:kx(i),cy:b[1],rx:34,ry:b[2]/2,fill:'#000','fill-opacity':v,filter:'url(#blur)'},g);
        nm(e,'band-'+r.n+'-lane'+(i+1));
      });
    });
  });
})();
</script>
</body></html>
